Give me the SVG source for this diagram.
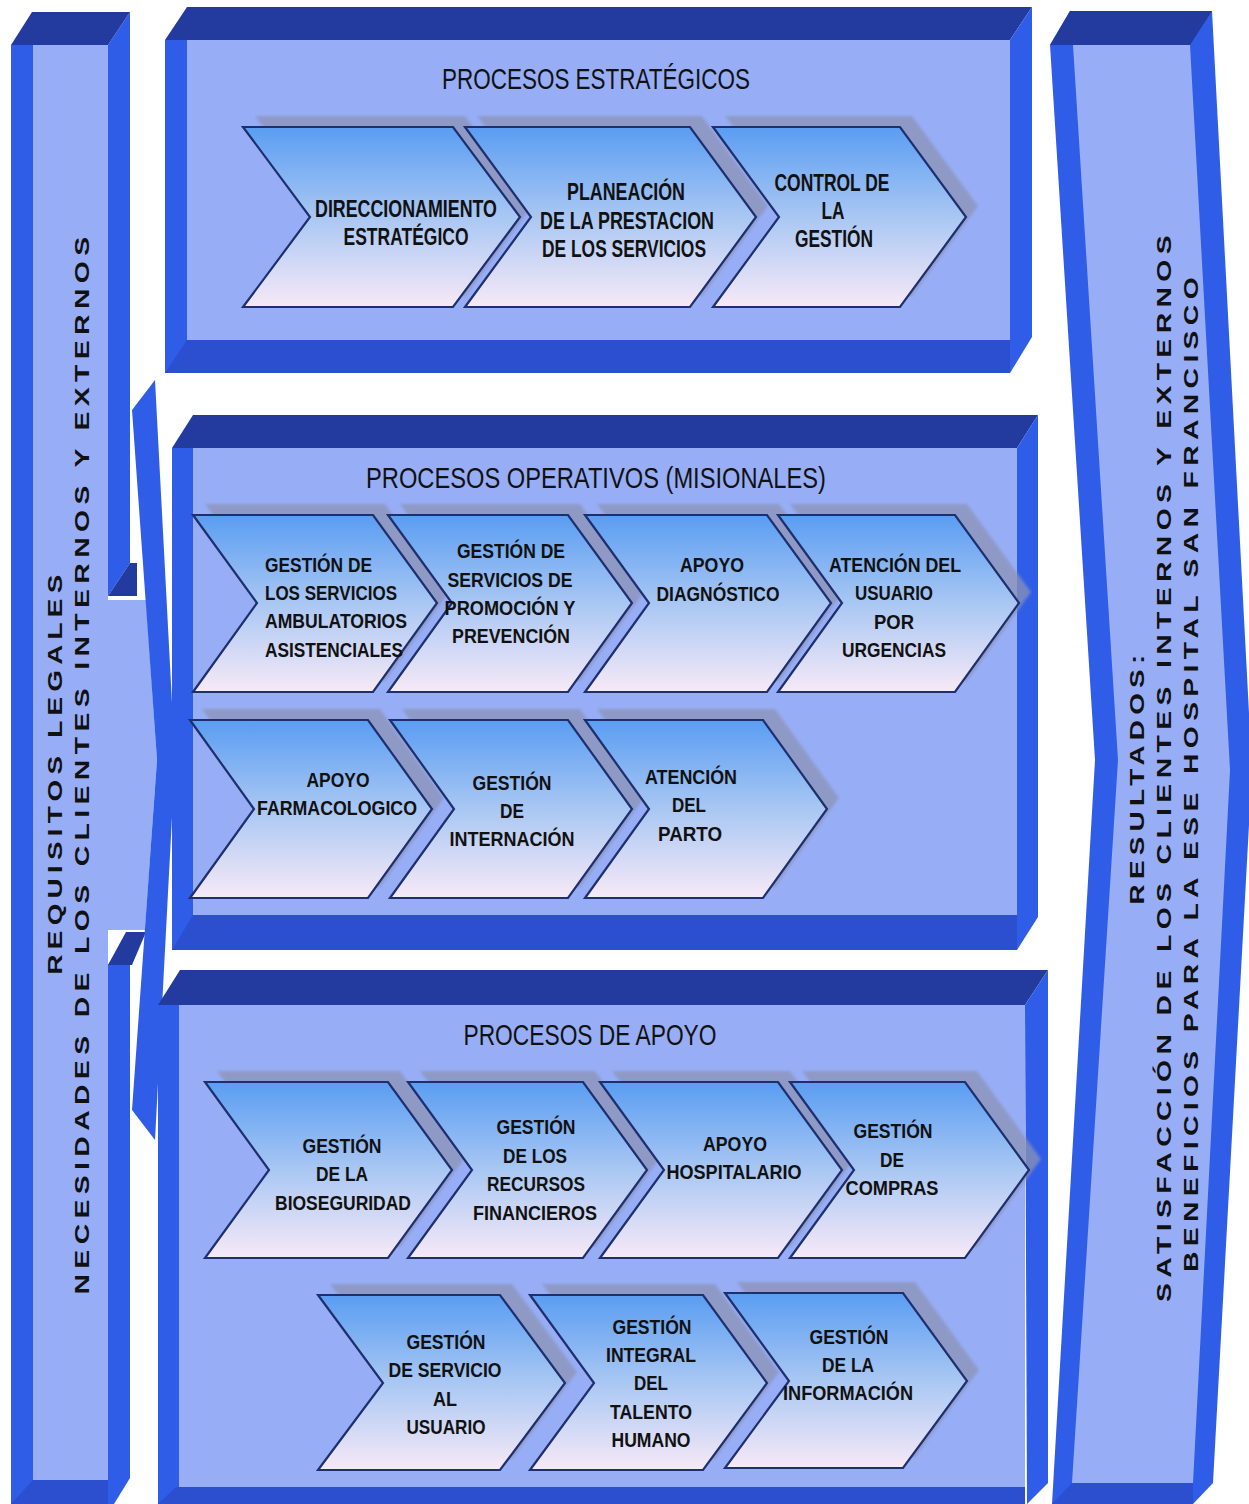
<svg xmlns="http://www.w3.org/2000/svg" width="1249" height="1504" viewBox="0 0 1249 1504">
<defs>
<linearGradient id="cg" x1="0" y1="0" x2="0" y2="1">
<stop offset="0" stop-color="#5a9df2"/>
<stop offset="0.5" stop-color="#a9c7f3"/>
<stop offset="1" stop-color="#f7e9f7"/>
</linearGradient>
<filter id="bl" x="-10%" y="-10%" width="120%" height="120%"><feGaussianBlur stdDeviation="1.5"/></filter>
<style>
.lt{fill:#97aef7}
.bl{fill:#2f5de8}
.dk{fill:#233a9e}
.bb{fill:#2b4fcf}
.ch{fill:url(#cg);stroke:#1e2f6e;stroke-width:2.2;stroke-linejoin:miter}
.sh{fill:#8b93b6;opacity:0.75;filter:url(#bl)}
.t{font-family:"Liberation Sans",Arial,sans-serif;font-weight:bold;font-size:21px;fill:#111;text-anchor:middle}
.t23{font-size:23px}
.ts{text-anchor:start}
.hd{font-family:"Liberation Sans",Arial,sans-serif;font-weight:normal;font-size:29px;fill:#111;text-anchor:middle}
.vt{font-family:"Liberation Sans",Arial,sans-serif;font-weight:bold;font-size:21px;letter-spacing:4px;fill:#111;text-anchor:middle}
</style>
</defs>
<rect width="1249" height="1504" fill="#ffffff"/>

<!-- Left bar -->
<g id="left-bar">
<rect class="bl" x="11" y="45" width="97" height="1459"/>
<polygon class="lt" points="33,45 108,45 108,600 146,600 157,760 145,930 108,930 108,1480 33,1480"/>
<polygon class="bb" points="11,1504 33,1480 108,1480 108,1504"/>
<polygon class="bl" points="108,45 130,12 130,563 108,596"/>
<polygon class="dk" points="108,596 130,563 137,563 137,596"/>
<polygon class="bl" points="108,965 130,932 130,1478 114,1504 108,1504"/>
<polygon class="dk" points="108,965 126,932 146,932 132,965"/>
<polygon class="bl" points="132,410 155,380 175,760 155,1140 132,1110 157,760"/>
<polygon class="dk" points="11,45 32,12 130,12 108,45"/>
<text class="vt" transform="translate(62,772) rotate(-90)" textLength="405" lengthAdjust="spacingAndGlyphs">REQUISITOS LEGALES</text>
<text class="vt" transform="translate(89,763) rotate(-90)" textLength="1063" lengthAdjust="spacingAndGlyphs">NECESIDADES DE LOS CLIENTES INTERNOS Y EXTERNOS</text>
</g>

<!-- Right bar -->
<g id="right-bar">
<polygon class="bl" points="1050,45 1070,11 1212,11 1252,770 1213,1483 1193,1504 1052,1504 1095,760"/>
<polygon class="lt" points="1073,45 1190,45 1230,770 1193,1483 1072,1483 1118,760"/>
<polygon class="bb" points="1052,1504 1072,1483 1193,1483 1193,1504"/>
<polygon class="dk" points="1050,45 1070,11 1212,11 1190,45"/>
<text class="vt" transform="translate(1144,777) rotate(-90)" textLength="255" lengthAdjust="spacingAndGlyphs">RESULTADOS:</text>
<text class="vt" transform="translate(1171,766) rotate(-90)" textLength="1072" lengthAdjust="spacingAndGlyphs">SATISFACCIÓN DE LOS CLIENTES INTERNOS Y EXTERNOS</text>
<text class="vt" transform="translate(1198,772) rotate(-90)" textLength="1000" lengthAdjust="spacingAndGlyphs">BENEFICIOS PARA LA ESE HOSPITAL SAN FRANCISCO</text>
</g>

<!-- Top box -->
<g id="procesos-estrategicos">
<rect class="bl" x="165" y="40" width="845" height="333"/>
<rect class="lt" x="187" y="40" width="823" height="300"/>
<polygon class="bb" points="165,373 187,340 1010,340 1010,373"/>
<polygon class="dk" points="165,40 187,7 1032,7 1010,40"/>
<polygon class="bl" points="1010,40 1032,7 1032,337 1010,373"/>
<text class="hd" x="596" y="89" textLength="308" lengthAdjust="spacingAndGlyphs">PROCESOS ESTRATÉGICOS</text>
</g>

<!-- Middle box -->
<g id="procesos-operativos">
<rect class="bl" x="172" y="448" width="845" height="502"/>
<rect class="lt" x="193" y="448" width="824" height="467"/>
<polygon class="bb" points="172,950 193,915 1017,915 1017,950"/>
<polygon class="dk" points="172,448 193,415 1038,415 1017,448"/>
<polygon class="bl" points="1017,448 1038,415 1038,917 1017,950"/>
<text class="hd" x="596" y="488" textLength="460" lengthAdjust="spacingAndGlyphs">PROCESOS OPERATIVOS (MISIONALES)</text>
</g>

<!-- Bottom box -->
<g id="procesos-apoyo">
<rect class="bl" x="158" y="1005" width="867" height="499"/>
<rect class="lt" x="179" y="1005" width="846" height="482"/>
<polygon class="bb" points="158,1504 176,1487 1025,1487 1025,1504"/>
<polygon class="dk" points="158,1005 180,970 1048,970 1025,1005"/>
<polygon class="bl" points="1025,1005 1048,970 1048,1483 1027,1504"/>
<text class="hd" x="590" y="1045" textLength="253" lengthAdjust="spacingAndGlyphs">PROCESOS DE APOYO</text>
</g>

<!-- Chevrons: top row -->
<g id="direccionamiento">
<polygon class="sh" points="255,116 465,116 532,206 465,296 255,296 322,206"/>
<polygon class="ch" points="243,127 453,127 520,217 453,307 243,307 310,217"/>
<text class="t t23" x="406" y="217" textLength="182" lengthAdjust="spacingAndGlyphs">DIRECCIONAMIENTO</text>
<text class="t t23" x="406" y="245" textLength="125" lengthAdjust="spacingAndGlyphs">ESTRATÉGICO</text>
</g>
<g id="planeacion">
<polygon class="sh" points="477,116 702,116 768,206 702,296 477,296 543,206"/>
<polygon class="ch" points="465,127 690,127 756,217 690,307 465,307 531,217"/>
<text class="t t23" x="626" y="200" textLength="118" lengthAdjust="spacingAndGlyphs">PLANEACIÓN</text>
<text class="t t23" x="627" y="229" textLength="174" lengthAdjust="spacingAndGlyphs">DE LA PRESTACION</text>
<text class="t t23" x="624" y="257" textLength="164" lengthAdjust="spacingAndGlyphs">DE LOS SERVICIOS</text>
</g>
<g id="control">
<polygon class="sh" points="725,116 912,116 978,206 912,296 725,296 791,206"/>
<polygon class="ch" points="713,127 900,127 966,217 900,307 713,307 779,217"/>
<text class="t t23" x="832" y="191" textLength="115" lengthAdjust="spacingAndGlyphs">CONTROL DE</text>
<text class="t t23" x="833" y="219" textLength="23" lengthAdjust="spacingAndGlyphs">LA</text>
<text class="t t23" x="834" y="247" textLength="78" lengthAdjust="spacingAndGlyphs">GESTIÓN</text>
</g>

<!-- Middle row 1 -->
<g id="ambulatorios">
<polygon class="sh" points="205,504 385,504 449,592 385,681 205,681 269,592"/>
<polygon class="ch" points="193,515 373,515 437,603 373,692 193,692 257,603"/>
<text class="t ts" x="265" y="572" textLength="107" lengthAdjust="spacingAndGlyphs">GESTIÓN DE</text>
<text class="t ts" x="265" y="600" textLength="132" lengthAdjust="spacingAndGlyphs">LOS SERVICIOS</text>
<text class="t ts" x="265" y="628" textLength="142" lengthAdjust="spacingAndGlyphs">AMBULATORIOS</text>
<text class="t ts" x="265" y="657" textLength="138" lengthAdjust="spacingAndGlyphs">ASISTENCIALES</text>
</g>
<g id="promocion">
<polygon class="sh" points="400,504 580,504 644,592 580,681 400,681 464,592"/>
<polygon class="ch" points="388,515 568,515 632,603 568,692 388,692 452,603"/>
<text class="t" x="511" y="558" textLength="108" lengthAdjust="spacingAndGlyphs">GESTIÓN DE</text>
<text class="t" x="510" y="587" textLength="125" lengthAdjust="spacingAndGlyphs">SERVICIOS DE</text>
<text class="t" x="510" y="615" textLength="131" lengthAdjust="spacingAndGlyphs">PROMOCIÓN Y</text>
<text class="t" x="511" y="643" textLength="118" lengthAdjust="spacingAndGlyphs">PREVENCIÓN</text>
</g>
<g id="diagnostico">
<polygon class="sh" points="597,504 779,504 843,592 779,681 597,681 661,592"/>
<polygon class="ch" points="585,515 767,515 831,603 767,692 585,692 649,603"/>
<text class="t" x="712" y="572" textLength="64" lengthAdjust="spacingAndGlyphs">APOYO</text>
<text class="t" x="718" y="601" textLength="123" lengthAdjust="spacingAndGlyphs">DIAGNÓSTICO</text>
</g>
<g id="urgencias">
<polygon class="sh" points="790,504 967,504 1031,592 967,681 790,681 854,592"/>
<polygon class="ch" points="778,515 955,515 1019,603 955,692 778,692 842,603"/>
<text class="t" x="895" y="572" textLength="132" lengthAdjust="spacingAndGlyphs">ATENCIÓN DEL</text>
<text class="t" x="894" y="600" textLength="78" lengthAdjust="spacingAndGlyphs">USUARIO</text>
<text class="t" x="894" y="629" textLength="40" lengthAdjust="spacingAndGlyphs">POR</text>
<text class="t" x="894" y="657" textLength="104" lengthAdjust="spacingAndGlyphs">URGENCIAS</text>
</g>

<!-- Middle row 2 -->
<g id="farmacologico">
<polygon class="sh" points="202,709 380,709 444,798 380,887 202,887 266,798"/>
<polygon class="ch" points="190,720 368,720 432,809 368,898 190,898 254,809"/>
<text class="t" x="338" y="787" textLength="63" lengthAdjust="spacingAndGlyphs">APOYO</text>
<text class="t" x="337" y="815" textLength="160" lengthAdjust="spacingAndGlyphs">FARMACOLOGICO</text>
</g>
<g id="internacion">
<polygon class="sh" points="402,709 580,709 644,798 580,887 402,887 466,798"/>
<polygon class="ch" points="390,720 568,720 632,809 568,898 390,898 454,809"/>
<text class="t" x="512" y="790" textLength="79" lengthAdjust="spacingAndGlyphs">GESTIÓN</text>
<text class="t" x="512" y="818" textLength="24" lengthAdjust="spacingAndGlyphs">DE</text>
<text class="t" x="512" y="846" textLength="125" lengthAdjust="spacingAndGlyphs">INTERNACIÓN</text>
</g>
<g id="parto">
<polygon class="sh" points="597,709 775,709 839,798 775,887 597,887 661,798"/>
<polygon class="ch" points="585,720 763,720 827,809 763,898 585,898 649,809"/>
<text class="t" x="691" y="784" textLength="92" lengthAdjust="spacingAndGlyphs">ATENCIÓN</text>
<text class="t" x="689" y="812" textLength="34" lengthAdjust="spacingAndGlyphs">DEL</text>
<text class="t" x="690" y="841" textLength="64" lengthAdjust="spacingAndGlyphs">PARTO</text>
</g>

<!-- Bottom row 1 -->
<g id="bioseguridad">
<polygon class="sh" points="217,1071 400,1071 464,1159 400,1247 217,1247 281,1159"/>
<polygon class="ch" points="205,1082 388,1082 452,1170 388,1258 205,1258 269,1170"/>
<text class="t" x="342" y="1153" textLength="79" lengthAdjust="spacingAndGlyphs">GESTIÓN</text>
<text class="t" x="342" y="1181" textLength="52" lengthAdjust="spacingAndGlyphs">DE LA</text>
<text class="t" x="343" y="1210" textLength="136" lengthAdjust="spacingAndGlyphs">BIOSEGURIDAD</text>
</g>
<g id="financieros">
<polygon class="sh" points="420,1071 595,1071 659,1159 595,1247 420,1247 484,1159"/>
<polygon class="ch" points="408,1082 583,1082 647,1170 583,1258 408,1258 472,1170"/>
<text class="t" x="536" y="1134" textLength="79" lengthAdjust="spacingAndGlyphs">GESTIÓN</text>
<text class="t" x="535" y="1163" textLength="64" lengthAdjust="spacingAndGlyphs">DE LOS</text>
<text class="t" x="536" y="1191" textLength="98" lengthAdjust="spacingAndGlyphs">RECURSOS</text>
<text class="t" x="535" y="1220" textLength="124" lengthAdjust="spacingAndGlyphs">FINANCIEROS</text>
</g>
<g id="hospitalario">
<polygon class="sh" points="612,1071 790,1071 854,1159 790,1247 612,1247 676,1159"/>
<polygon class="ch" points="600,1082 778,1082 842,1170 778,1258 600,1258 664,1170"/>
<text class="t" x="735" y="1151" textLength="64" lengthAdjust="spacingAndGlyphs">APOYO</text>
<text class="t" x="734" y="1179" textLength="135" lengthAdjust="spacingAndGlyphs">HOSPITALARIO</text>
</g>
<g id="compras">
<polygon class="sh" points="802,1071 977,1071 1041,1159 977,1247 802,1247 866,1159"/>
<polygon class="ch" points="790,1082 965,1082 1029,1170 965,1258 790,1258 854,1170"/>
<text class="t" x="893" y="1138" textLength="79" lengthAdjust="spacingAndGlyphs">GESTIÓN</text>
<text class="t" x="892" y="1167" textLength="24" lengthAdjust="spacingAndGlyphs">DE</text>
<text class="t" x="892" y="1195" textLength="93" lengthAdjust="spacingAndGlyphs">COMPRAS</text>
</g>

<!-- Bottom row 2 -->
<g id="servicio-usuario">
<polygon class="sh" points="330,1284 512,1284 577,1372 512,1459 330,1459 395,1372"/>
<polygon class="ch" points="318,1295 500,1295 565,1383 500,1470 318,1470 383,1383"/>
<text class="t" x="446" y="1349" textLength="79" lengthAdjust="spacingAndGlyphs">GESTIÓN</text>
<text class="t" x="445" y="1377" textLength="113" lengthAdjust="spacingAndGlyphs">DE SERVICIO</text>
<text class="t" x="445" y="1406" textLength="24" lengthAdjust="spacingAndGlyphs">AL</text>
<text class="t" x="446" y="1434" textLength="79" lengthAdjust="spacingAndGlyphs">USUARIO</text>
</g>
<g id="talento-humano">
<polygon class="sh" points="542,1284 715,1284 779,1372 715,1459 542,1459 606,1372"/>
<polygon class="ch" points="530,1295 703,1295 767,1383 703,1470 530,1470 594,1383"/>
<text class="t" x="652" y="1334" textLength="79" lengthAdjust="spacingAndGlyphs">GESTIÓN</text>
<text class="t" x="651" y="1362" textLength="90" lengthAdjust="spacingAndGlyphs">INTEGRAL</text>
<text class="t" x="651" y="1390" textLength="34" lengthAdjust="spacingAndGlyphs">DEL</text>
<text class="t" x="651" y="1419" textLength="82" lengthAdjust="spacingAndGlyphs">TALENTO</text>
<text class="t" x="651" y="1447" textLength="79" lengthAdjust="spacingAndGlyphs">HUMANO</text>
</g>
<g id="informacion">
<polygon class="sh" points="737,1282 915,1282 979,1370 915,1457 737,1457 801,1370"/>
<polygon class="ch" points="725,1293 903,1293 967,1381 903,1468 725,1468 789,1381"/>
<text class="t" x="849" y="1344" textLength="79" lengthAdjust="spacingAndGlyphs">GESTIÓN</text>
<text class="t" x="848" y="1372" textLength="52" lengthAdjust="spacingAndGlyphs">DE LA</text>
<text class="t" x="848" y="1400" textLength="130" lengthAdjust="spacingAndGlyphs">INFORMACIÓN</text>
</g>

<g id="connectors"></g>
</svg>
